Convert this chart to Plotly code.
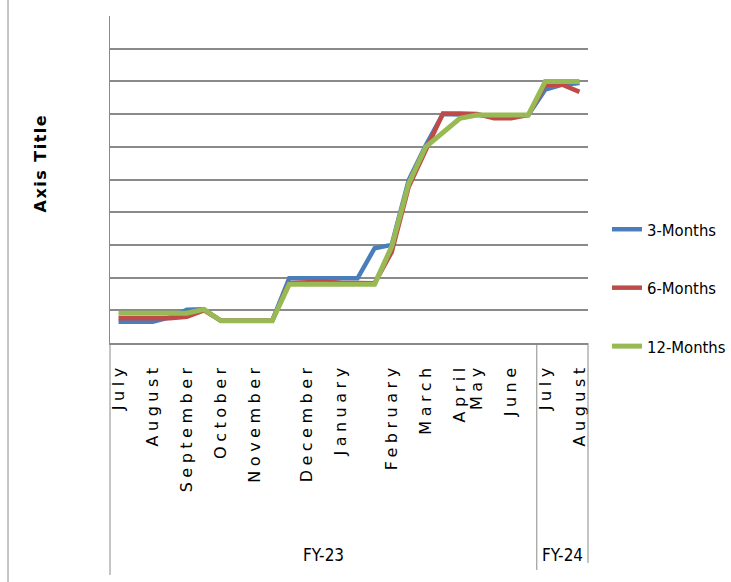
import plotly.graph_objects as go

# ---- data (values in gridline units) ----
x_index = list(range(28))
tick_index = [0, 2, 4, 6, 8, 11, 13, 16, 18, 20, 21, 23, 25, 27]
tick_labels = ["July", "August", "September", "October", "November", "December",
               "January", "February", "March", "April", "May", "June", "July", "August"]
fy_labels = ["FY-23", "FY-24"]
fy_centers = [12, 26]
fy_split = 24.5

three_months = [0.65, 0.65, 0.65, 0.78, 1.02, 1.03, 0.68, 0.68, 0.68, 0.68,
                1.98, 1.98, 1.98, 1.98, 1.98, 2.90, 3.00, 4.98, 6.05, 7.00,
                7.00, 6.97, 6.95, 6.95, 6.97, 7.75, 7.90, 7.95]
six_months = [0.76, 0.76, 0.76, 0.76, 0.80, 1.00, 0.68, 0.68, 0.68, 0.68,
              1.83, 1.85, 1.88, 1.84, 1.83, 1.83, 2.78, 4.78, 5.90, 7.02,
              7.02, 7.00, 6.87, 6.87, 6.97, 7.90, 7.90, 7.68]
twelve_months = [0.91, 0.91, 0.91, 0.91, 0.91, 1.03, 0.68, 0.68, 0.68, 0.68,
                 1.80, 1.80, 1.80, 1.80, 1.80, 1.80, 2.95, 4.88, 6.00, 6.45,
                 6.87, 6.97, 6.97, 6.97, 6.97, 8.00, 8.00, 8.00]

series = [("3-Months", three_months, "#4A7EBB", 4.5),
          ("6-Months", six_months, "#BE4B48", 4.5),
          ("12-Months", twelve_months, "#98B954", 5)]

L, R, T, B = 110, 143, 16, 239
W, H = 731, 582
plot_h = H - T - B
plot_w = W - L - R

fig = go.Figure()
for name, vals, color, w in series:
    fig.add_trace(go.Scatter(
        x=x_index, y=vals, mode="lines", name=name, legendgroup=name,
        line=dict(color=color, width=w)))

grid = "#8A8A8A"
narrow = "Liberation Sans Narrow, DejaVu Sans Condensed, Liberation Sans, Arial, sans-serif"

def py(pix):
    return (H - B - pix) / plot_h

def px(pix):
    return (pix - L) / plot_w

shapes = [
    dict(type="line", xref="paper", yref="paper", x0=0, x1=0, y0=0, y1=py(575),
         line=dict(color=grid, width=1)),
    dict(type="line", xref="x", yref="paper", x0=fy_split, x1=fy_split, y0=0, y1=py(570),
         line=dict(color=grid, width=1)),
    dict(type="line", xref="paper", yref="paper", x0=1, x1=1, y0=0, y1=py(563),
         line=dict(color=grid, width=1)),
    dict(type="line", xref="paper", yref="paper", x0=px(8), x1=px(8), y0=py(0), y1=py(582),
         line=dict(color=grid, width=1)),
]

annotations = [
    dict(text=lab, x=c, xref="x", y=py(555), yref="paper", showarrow=False,
         xanchor="center", yanchor="middle",
         font=dict(family=narrow, size=17, color="#000"))
    for lab, c in zip(fy_labels, fy_centers)
]
annotations.append(dict(text="<b>Axis Title</b>", x=px(40), xref="paper", y=py(163), yref="paper",
                        textangle=-90, showarrow=False, xanchor="center", yanchor="middle",
                        font=dict(family="DejaVu Sans", size=16, color="#000")))

fig.update_layout(
    width=W, height=H,
    margin=dict(l=L, r=R, t=T, b=B, autoexpand=False),
    paper_bgcolor="white", plot_bgcolor="white",
    showlegend=True,
    legend=dict(x=px(607), xanchor="left", y=py(212), yanchor="top",
                tracegroupgap=34, traceorder="grouped",
                font=dict(family=narrow, size=16.5, color="#000"),
                bgcolor="rgba(0,0,0,0)"),
    shapes=shapes, annotations=annotations,
    xaxis=dict(range=[-0.5, 27.5], tickmode="array", tickvals=tick_index, ticktext=tick_labels,
               tickangle=-90, ticks="", showgrid=False, zeroline=False,
               showline=True, linecolor=grid, linewidth=2, automargin=False,
               ticklabelstandoff=12,
               tickfont=dict(family="DejaVu Sans", size=16, color="#000")),
    yaxis=dict(range=[0, 10], dtick=1, tick0=0, showticklabels=False, ticks="",
               showgrid=True, gridcolor=grid, gridwidth=2, zeroline=False,
               showline=True, linecolor=grid, linewidth=1, automargin=False),
)

post = """
var gd = document.getElementById('{plot_id}');
function ls(){
  gd.querySelectorAll('.xtick text').forEach(function(t){ t.style.letterSpacing='4.5px'; });
  gd.querySelectorAll('.annotation-text').forEach(function(t){
    if (t.textContent.indexOf('Axis Title') >= 0) { t.style.letterSpacing='1.5px'; }
  });
}
ls(); gd.on('plotly_afterplot', ls);
"""
fig.write_html("out.html", post_script=post)
